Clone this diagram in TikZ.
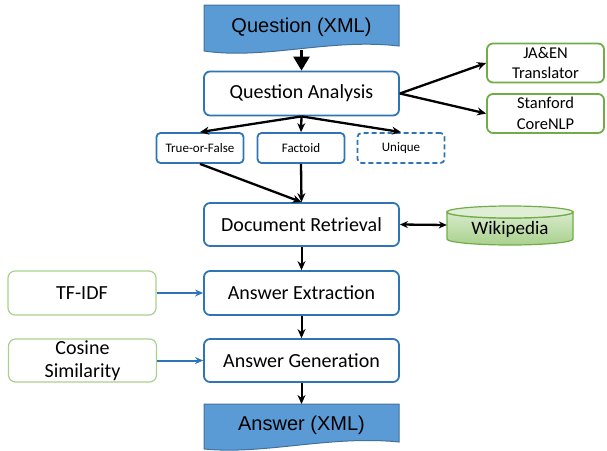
\documentclass[tikz,border=0pt]{standalone}
\usepackage{fontspec}
\setmainfont{Carlito}
\newfontfamily\arialfont{Liberation Sans}
\usetikzlibrary{arrows.meta}
\definecolor{bblue}{HTML}{2E75B6}
\definecolor{dfill}{HTML}{5B9BD5}
\definecolor{dline}{HTML}{41719C}
\definecolor{ggreen}{HTML}{70AD47}
\definecolor{lgreen}{HTML}{A9D18E}
\definecolor{vlgreen}{HTML}{D8EACB}
\begin{document}
\begin{tikzpicture}[x=1pt,y=-1pt,
  stagebox/.style={draw=bblue, line width=1.8pt, rounded corners=6pt, fill=white, minimum width=195pt, minimum height=44pt, inner sep=0pt, font=\fontsize{20}{22}\selectfont},
  typebox/.style={draw=bblue, line width=1.8pt, rounded corners=4pt, fill=white, minimum width=87pt, minimum height=30pt, inner sep=0pt, font=\fontsize{13}{15}\selectfont},
  toolbox/.style={draw=ggreen, line width=1.8pt, rounded corners=6pt, fill=white, minimum width=117pt, minimum height=39pt, inner sep=0pt, align=center, font=\fontsize{16.5}{20.5}\selectfont},
  extbox/.style={draw=lgreen, line width=1.2pt, rounded corners=7pt, fill=white, minimum width=148pt, minimum height=44pt, inner sep=0pt, align=center, font=\fontsize{20}{23}\selectfont},
  doclabel/.style={font=\arialfont\fontsize{20}{22}\selectfont},
  arr/.style={-{Stealth[length=9pt,width=8pt]}, line width=2.3pt},
  darr/.style={{Stealth[length=8pt,width=7pt]}-{Stealth[length=8pt,width=7pt]}, line width=2.3pt},
  bigarr/.style={-{Triangle[length=14pt,width=16pt]}, line width=2.6pt},
  barr/.style={-{Stealth[length=8pt,width=7pt]}, line width=2pt, draw=bblue},
  docshape/.style={fill=dfill, draw=dline, line width=1pt}
]
\useasboundingbox (0,0) rectangle (607,450);
\clip (0,0) rectangle (607,450);

% document shapes
\draw[docshape] (204,5) -- (399,5) -- (399,46) .. controls (330,38) and (265,60) .. (204,51) -- cycle;
\node[doclabel] (q) at (301.5,27) {Question (XML)};
\draw[docshape] (204,404) -- (399,404) -- (399,442) .. controls (330,435) and (265,455) .. (204,449) -- cycle;
\node[doclabel] (ans) at (301.5,425) {Answer (XML)};
\coordinate (qbot) at (301.5,50);
\coordinate (atop) at (301.5,404);

% main stages
\node[stagebox] (qa) at (301.5,93.5) {Question Analysis};
\node[typebox] (tf) at (200,148) {True-or-False};
\node[typebox] (fa) at (301,148) {Factoid};
\node[typebox, dashed, dash pattern=on 5pt off 3pt] (un) at (401,148) {Unique};
\node[stagebox, minimum height=43pt] (dr) at (301.5,224.5) {Document Retrieval};
\node[stagebox] (ae) at (301.5,293) {Answer Extraction};
\node[stagebox, minimum height=43pt] (ag) at (301.5,360.5) {Answer Generation};

% tools
\node[toolbox] (ja) at (545.5,63) {JA\&EN\\Translator};
\node[toolbox] (st) at (545.5,113.5) {Stanford\\CoreNLP};
\node[extbox] (tfidf) at (82,293) {TF-IDF};
\node[extbox, minimum height=43pt] (cos) at (82.5,360.5) {Cosine\\Similarity};

% wikipedia cylinder
\node[minimum width=126pt, minimum height=40pt, inner sep=0pt] (wiki) at (510,225) {};
\shade[top color=vlgreen, bottom color=lgreen, draw=ggreen, line width=1.2pt]
  (447,212) -- (447,239) arc[start angle=180, end angle=360, x radius=63pt, y radius=6pt]
  -- (573,212) arc[start angle=0, end angle=-180, x radius=63pt, y radius=6pt] -- cycle;
\draw[fill=vlgreen!80!white, draw=ggreen, line width=1.2pt] (510,212) ellipse[x radius=63pt, y radius=6pt];
\node[font=\fontsize{19}{21}\selectfont] at (510,229) {Wikipedia};

% connectors
\draw[bigarr] (qbot) -- (qa.north);
\draw[arr] (qa.south) -- (tf.north);
\draw[arr] (qa.south) -- (fa.north);
\draw[arr] (qa.south) -- (un.north);
\draw[arr] (tf.south) -- (dr.north);
\draw[arr] (fa.south) -- (dr.north);
\draw[arr] (qa.east) -- (ja.west);
\draw[arr] (qa.east) -- (st.west);
\draw[darr] (dr.east) -- (wiki.west);
\draw[arr, line width=2pt] (dr.south) -- (ae.north);
\draw[arr, line width=2pt] (ae.south) -- (ag.north);
\draw[arr, line width=2pt] (ag.south) -- (atop);
\draw[barr] (tfidf.east) -- (ae.west);
\draw[barr] (cos.east) -- (ag.west);
\end{tikzpicture}
\end{document}
